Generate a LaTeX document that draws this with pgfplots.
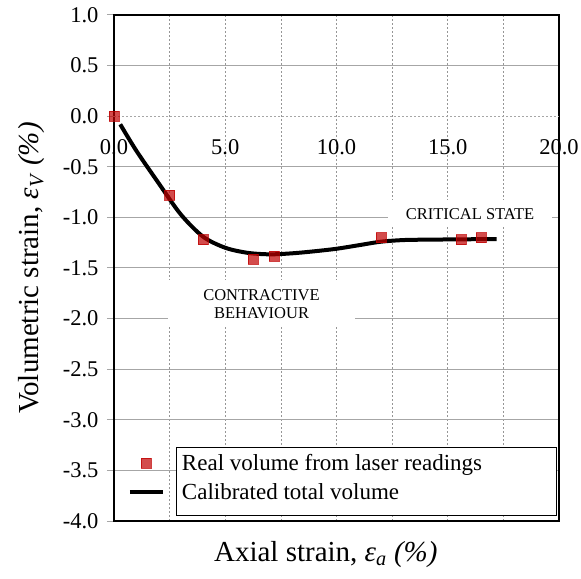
\documentclass[border=0pt]{standalone}
\usepackage{fontspec}
\setmainfont{Liberation Serif}
\usepackage{pgfplots}
\pgfplotsset{compat=1.18}
\definecolor{markred}{RGB}{192,0,0}
\definecolor{gridgray}{RGB}{166,166,166}
\definecolor{dashgray}{RGB}{150,150,150}
\begin{document}
\begin{tikzpicture}
\useasboundingbox (0,0) rectangle (581bp,579bp);
\begin{axis}[
  at={(114bp,58bp)}, anchor=south west,
  width=445bp, height=506bp, scale only axis,
  xmin=0, xmax=20, ymin=-4, ymax=1,
  xtick={0,2.5,...,20},
  xticklabels={0.0,,5.0,,10.0,,15.0,,20.0},
  ytick={-4,-3.5,-3,-2.5,-2,-1.5,-1,-0.5,0.5,1},
  extra y ticks={0},
  extra y tick style={grid=major, grid style={dashgray, dash pattern=on 2bp off 2bp, line width=0.75bp}},
  xmajorgrids, ymajorgrids,
  x grid style={dashgray, dash pattern=on 2bp off 2bp, line width=0.75bp},
  y grid style={gridgray, line width=1bp},
  xtick style={draw=none},
  ytick pos=left, tick align=outside, major tick length=7bp,
  ytick style={gridgray, line width=1bp},
  axis line style={black, line width=1.5bp},
  tick label style={font=\fontsize{22.5bp}{26bp}\selectfont},
  yticklabel style={xshift=-5bp, /pgf/number format/fixed, /pgf/number format/fixed zerofill, /pgf/number format/precision=1, /pgf/number format/assume math mode=true},
  xticklabel style={anchor=center, yshift=381bp},
  xlabel={Axial strain, \textit{ε}\textsubscript{\textit{a}} \textit{(\%)}},
  ylabel={Volumetric strain, \textit{ε}\textsubscript{\textit{V}} \textit{(\%)}},
  label style={font=\fontsize{29bp}{34bp}\selectfont},
  xlabel style={at={(axis description cs:0.476,-0.067)}, anchor=center},
  ylabel style={at={(axis description cs:-0.185,0.5)}, anchor=center},
  legend image code/.code={\draw[mark repeat=2,mark phase=2] plot coordinates {(0bp,0bp) (16.5bp,0bp) (33bp,0bp)};},
  legend style={at={(axis cs:0.62,-3.32)}, anchor=north west, draw=none, fill=none,
    font=\fontsize{23bp}{26bp}\selectfont, row sep=7bp, inner sep=0pt,
    nodes={inner sep=2bp}, /tikz/every odd column/.append style={column sep=15bp}},
  legend cell align=left,
]
\draw[black, line width=1bp, fill=white] (axis cs:2.787,-3.269) rectangle (axis cs:19.865,-3.941);
\addplot[only marks, mark=square*, mark size=5bp, mark options={fill=markred, draw=markred, fill opacity=0.7, draw opacity=0.75}]
  coordinates {(0,0) (2.5,-0.78) (4.0,-1.22) (6.25,-1.41) (7.2,-1.38) (12.0,-1.20) (15.6,-1.22) (16.5,-1.20)};
\addlegendentry{Real volume from laser readings}
\addplot[black, line width=4bp, smooth, tension=0.5]
  coordinates {(0.28,-0.08) (1,-0.34) (2,-0.66) (3,-0.97) (4,-1.19) (5,-1.30) (6,-1.35) (7,-1.365) (8,-1.355) (9,-1.335) (10,-1.31) (11,-1.275) (12,-1.24) (13,-1.224) (14,-1.22) (15,-1.218) (16,-1.216) (17.2,-1.215)};
\addlegendentry{Calibrated total volume}
\node[fill=white, minimum width=164bp, minimum height=27bp, inner sep=0pt, font=\fontsize{16.5bp}{18bp}\selectfont] at (axis cs:16.0,-0.963) {CRITICAL STATE};
\node[fill=white, minimum width=187bp, minimum height=47bp, inner sep=0pt, align=center, font=\fontsize{16.5bp}{18bp}\selectfont] at (axis cs:6.63,-1.853) {CONTRACTIVE\\BEHAVIOUR};
\end{axis}
\end{tikzpicture}
\end{document}
